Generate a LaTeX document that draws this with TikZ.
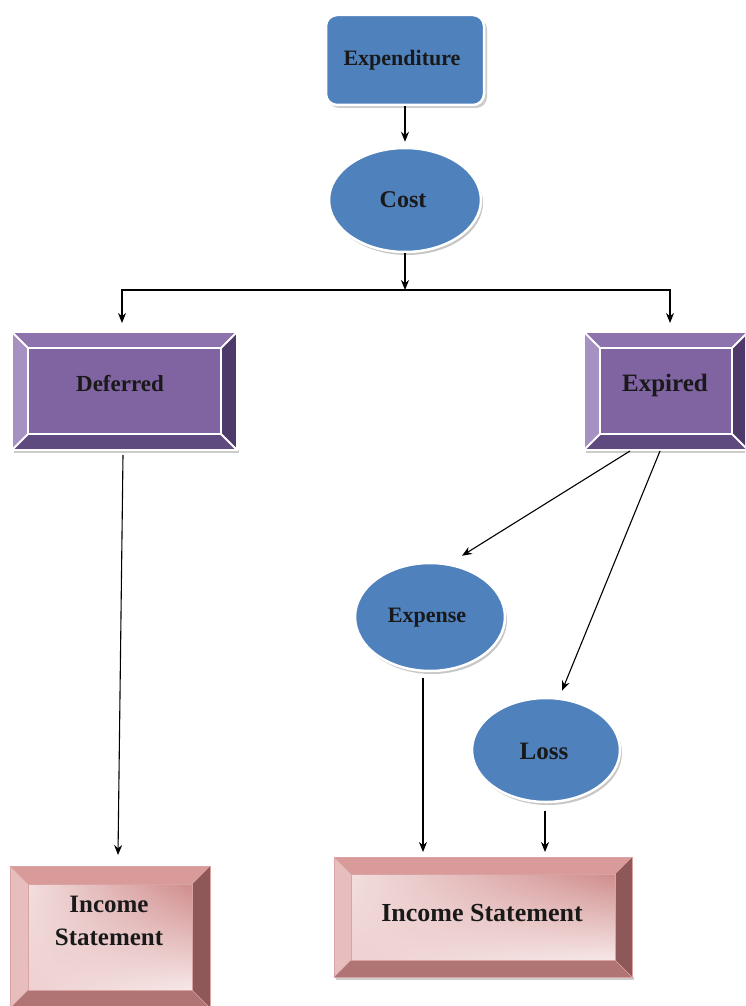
\documentclass[tikz,border=0pt]{standalone}
\usepackage{fontspec}
\setmainfont{Liberation Serif}
\usetikzlibrary{arrows.meta,shapes.geometric,shadings}
\definecolor{bluM}{HTML}{4F81BD}
\definecolor{purM}{HTML}{8064A2}
\definecolor{purT}{HTML}{8D73AE}
\definecolor{purL}{HTML}{A592C3}
\definecolor{purR}{HTML}{4E3A6A}
\definecolor{purB}{HTML}{5F4A80}
\definecolor{pinT}{HTML}{D99A9A}
\definecolor{pinL}{HTML}{E7BDBD}
\definecolor{pinR}{HTML}{8E5858}
\definecolor{pinB}{HTML}{B07474}
\definecolor{pinE}{HTML}{D08C8C}
\tikzset{
  arr/.style={line width=1.1pt, -{Stealth[length=10pt,width=8pt]}},
  blueell/.style={ellipse, fill=bluM, draw=white, line width=2.5pt, inner sep=0pt},
  shadowell/.style={ellipse, fill=black!22, inner sep=0pt},
  lbl/.style={font=\bfseries, text=black!90, inner sep=0pt, align=center},
  purin/.style={fill=purM}, purtop/.style={fill=purT}, purleft/.style={fill=purL},
  purright/.style={fill=purR}, purbot/.style={fill=purB}, purline/.style={draw=white, line width=2pt},
  pinin/.style={shade, upper left=pinL!50!white, upper right=pinE, lower left=pinL!70!white, lower right=pinL!35!white},
  pintop/.style={fill=pinT}, pinleft/.style={fill=pinL}, pinright/.style={fill=pinR},
  pinbot/.style={fill=pinB}, pinline/.style={draw=pinE!80!white, line width=0.6pt},
}
% #1 name, #2 center, #3 width, #4 height, #5 inset, #6 style prefix
\newcommand\bevbox[6]{%
  \node[minimum width=#3, minimum height=#4, inner sep=0pt, outer sep=0pt] (#1) at #2 {};
  \fill[black!20] ([shift={(2pt,-3pt)}]#1.south west) rectangle ([shift={(2pt,0pt)}]#1.south east);
  \coordinate (#1-inw) at ([shift={(#5,-#5)}]#1.north west);
  \coordinate (#1-ine) at ([shift={(-#5,-#5)}]#1.north east);
  \coordinate (#1-ise) at ([shift={(-#5,#5)}]#1.south east);
  \coordinate (#1-isw) at ([shift={(#5,#5)}]#1.south west);
  \path[#6top] (#1.north west) -- (#1.north east) -- (#1-ine) -- (#1-inw) -- cycle;
  \path[#6right] (#1.north east) -- (#1.south east) -- (#1-ise) -- (#1-ine) -- cycle;
  \path[#6bot] (#1.south east) -- (#1.south west) -- (#1-isw) -- (#1-ise) -- cycle;
  \path[#6left] (#1.south west) -- (#1.north west) -- (#1-inw) -- (#1-isw) -- cycle;
  \path[#6in] (#1-inw) rectangle (#1-ise);
  \path[#6line] (#1.north west) rectangle (#1.south east);
  \path[#6line] (#1-inw) rectangle (#1-ise);
  \path[#6line] (#1.north west) -- (#1-inw) (#1.north east) -- (#1-ine)
                (#1.south east) -- (#1-ise) (#1.south west) -- (#1-isw);
}
\begin{document}
\begin{tikzpicture}[x=1pt,y=-1pt]
\useasboundingbox (0,0) rectangle (745,1006);
\clip (0,0) rectangle (745,1006);
\fill[white] (0,0) rectangle (745,1006);

% Expenditure
\fill[black!20, rounded corners=11pt] (328,18) rectangle (487,108);
\node[rectangle, rounded corners=11pt, fill=bluM, draw=white, line width=2.5pt,
      minimum width=158pt, minimum height=90pt, inner sep=0pt] (exp) at (405,60) {};
\node[lbl, font=\bfseries\fontsize{22}{24}\selectfont] (expt) at (402,60) {Expenditure};

% Cost
\node[shadowell, minimum width=152pt, minimum height=104pt] (costsh) at (407,203) {};
\node[blueell, minimum width=152pt, minimum height=104pt] (cost) at (405,200) {};
\node[lbl, font=\bfseries\fontsize{24}{26}\selectfont] (costt) at (403,200) {Cost};

% Deferred / Expired
\bevbox{def}{(124.5,391)}{225pt}{118pt}{16pt}{pur}
\node[lbl, font=\bfseries\fontsize{23}{25}\selectfont] (deft) at (120,384) {Deferred};
\bevbox{expd}{(666,391)}{164pt}{118pt}{16pt}{pur}
\node[lbl, font=\bfseries\fontsize{25}{27}\selectfont] (expdt) at (665,385) {Expired};

% Expense / Loss
\node[shadowell, minimum width=150pt, minimum height=108pt] (expnsh) at (432,620) {};
\node[blueell, minimum width=150pt, minimum height=108pt] (expn) at (430,617) {};
\node[lbl, font=\bfseries\fontsize{22}{24}\selectfont] (expnt) at (427,618) {Expense};
\node[shadowell, minimum width=148pt, minimum height=104pt] (losssh) at (548,753) {};
\node[blueell, minimum width=148pt, minimum height=104pt] (loss) at (546,750) {};
\node[lbl, font=\bfseries\fontsize{25}{27}\selectfont] (losst) at (544,751) {Loss};

% Income statements
\bevbox{isl}{(110,937)}{200pt}{142pt}{18pt}{pin}
\node[lbl, font=\bfseries\fontsize{25}{33}\selectfont] (islt) at (109,921) {Income\\Statement};
\bevbox{isr}{(483,917)}{298pt}{120pt}{17pt}{pin}
\node[lbl, font=\bfseries\fontsize{26}{28}\selectfont] (isrt) at (482,913) {Income Statement};

% connectors
\coordinate (bus) at (405,290);
\draw[arr] (exp.south) -- ([yshift=5pt]cost.north);
\draw[arr] (cost.south) -- (bus);
\draw[arr] (bus) -| ([xshift=-2.5pt,yshift=9pt]def.north);
\draw[arr] (bus) -| ([xshift=4pt,yshift=9pt]expd.north);
\draw[arr] ([xshift=-36pt,yshift=-1pt]expd.south) -- ([xshift=32pt,yshift=6pt]expn.north);
\draw[arr] ([xshift=-6pt,yshift=-1pt]expd.south) -- ([xshift=16pt,yshift=6pt]loss.north);
\draw[arr] ([xshift=-1.5pt,yshift=-5pt]def.south) -- ([xshift=8pt,yshift=11pt]isl.north);
\draw[arr] ([xshift=-7pt,yshift=-6pt]expn.south) -- ([xshift=-60pt,yshift=5pt]isr.north);
\draw[arr] ([xshift=-1pt,yshift=-8pt]loss.south) -- ([xshift=62pt,yshift=5pt]isr.north);
\end{tikzpicture}
\end{document}
